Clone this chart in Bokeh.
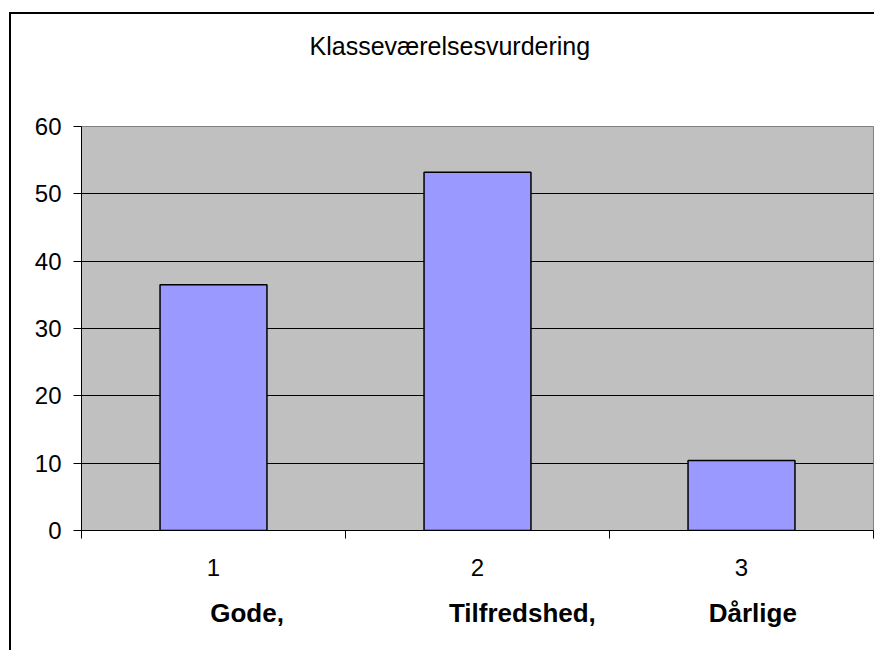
from bokeh.plotting import figure
from bokeh.models import Range1d, LinearAxis, FixedTicker, Grid, Title
from bokeh.embed import file_html
from bokeh.resources import INLINE

# ---- data ----
title_text = "Klasseværelsesvurdering"
categories = ["1", "2", "3"]
names = ["Gode,", "Tilfredshed,", "Dårlige"]
values = [36.5, 53.2, 10.4]
y_ticks = [0, 10, 20, 30, 40, 50, 60]

# ---- style ----
FONT = "Liberation Sans"
BAR_COLOR = "#9999FF"
PLOT_BG = "#C0C0C0"
name_shift = [0.127, 0.170, 0.043]   # visual offset of the bold names (as drawn in the source)

xs = [i + 1 for i in range(len(categories))]

p = figure(
    frame_width=792, frame_height=404,
    min_border_left=70, min_border_right=1, min_border_top=112, min_border_bottom=120,
    x_range=Range1d(0.5, len(categories) + 0.5),
    y_range=Range1d(0, 60),
    output_backend="svg", toolbar_location=None,
    x_axis_type=None, y_axis_type=None,
    background_fill_color=PLOT_BG,
    border_fill_color="white",
    outline_line_color="#808080", outline_line_width=1,
    margin=(12, 0, 0, 9),
    styles={"border-left": "2px solid black", "border-top": "2px solid black"},
)

# title (outermost above panel)
p.title.text = title_text
p.title.text_font = FONT
p.title.text_font_size = "25px"
p.title.text_font_style = "normal"
p.title.text_color = "black"
p.title.align = "left"
p.title.offset = 228
p.title.standoff = 0

# empty spacer panel between the title and the plot area
spacer = Title(text=" ", text_font_size="10px", standoff=54)
p.add_layout(spacer, "above")

# grid (drawn under the bars)
ygrid = Grid(dimension=1, ticker=FixedTicker(ticks=y_ticks[1:-1]),
             grid_line_color="black", grid_line_width=1)
p.add_layout(ygrid)

# bars
p.vbar(x=xs, top=values, width=0.405, fill_color=BAR_COLOR,
       line_color="black", line_width=1.5)

# y axis
yaxis = LinearAxis(ticker=FixedTicker(ticks=y_ticks))
yaxis.major_tick_out = 8
yaxis.major_tick_in = 0
yaxis.minor_tick_line_color = None
yaxis.axis_line_color = "black"
yaxis.major_tick_line_color = "black"
yaxis.major_label_text_font = FONT
yaxis.major_label_text_font_size = "24px"
yaxis.major_label_text_color = "black"
yaxis.major_label_standoff = 12
p.add_layout(yaxis, "left")

# x axis with category numbers and boundary ticks
bounds = [x - 0.5 for x in xs] + [xs[-1] + 0.5]
xaxis = LinearAxis(ticker=FixedTicker(ticks=xs, minor_ticks=bounds))
xaxis.major_label_overrides = {x: c for x, c in zip(xs, categories)}
xaxis.major_tick_line_color = None
xaxis.major_tick_out = 8
xaxis.major_tick_in = 0
xaxis.minor_tick_line_color = "black"
xaxis.minor_tick_out = 8
xaxis.minor_tick_in = 0
xaxis.axis_line_color = "black"
xaxis.major_label_text_font = FONT
xaxis.major_label_text_font_size = "24px"
xaxis.major_label_text_color = "black"
xaxis.major_label_standoff = 20
p.add_layout(xaxis, "below")

# x axis with bold category names
name_pos = [x + s for x, s in zip(xs, name_shift)]
naxis = LinearAxis(ticker=FixedTicker(ticks=name_pos, minor_ticks=[]))
naxis.major_label_overrides = {x: n for x, n in zip(name_pos, names)}
naxis.axis_line_color = None
naxis.major_tick_line_color = None
naxis.minor_tick_line_color = None
naxis.major_tick_out = 0
naxis.major_tick_in = 0
naxis.major_label_text_font = FONT
naxis.major_label_text_font_size = "26px"
naxis.major_label_text_font_style = "bold"
naxis.major_label_text_color = "black"
naxis.major_label_standoff = 19
p.add_layout(naxis, "below")

open("out.html", "w").write(file_html(p, INLINE))
